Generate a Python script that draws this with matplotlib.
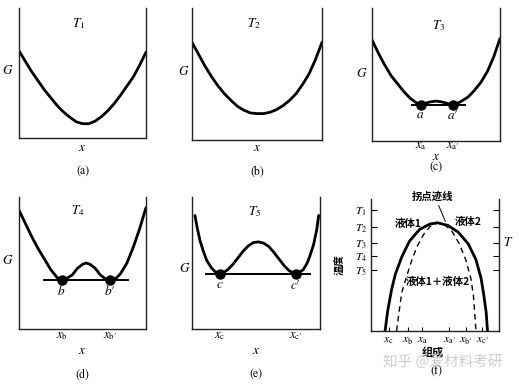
import matplotlib
matplotlib.use('Agg')
import matplotlib.pyplot as plt

plt.rcParams['mathtext.fontset'] = 'stix'
plt.rcParams['font.family'] = ['STIXGeneral', 'DejaVu Sans']

W, H = 519, 387
CJK = ['Noto Sans CJK SC', 'DejaVu Sans']

# (a) T1 : single minimum
a_x = [0, .05, .1, .15, .2, .25, .3, .35, .4, .45, .5, .55, .6, .65, .7, .75, .8, .85, .9, .95, 1.0]
a_G = [.67, .59, .51, .44, .37, .31, .25, .20, .16, .125, .11, .11, .13, .165, .21, .265, .33, .40, .47, .56, .66]

# (b) T2 : flatter minimum
b_x = [0, .05, .1, .15, .2, .25, .3, .35, .4, .45, .5, .55, .6, .65, .7, .75, .8, .85, .9, .95, 1.0]
b_G = [.74, .65, .56, .48, .41, .35, .30, .255, .225, .205, .20, .20, .21, .23, .26, .30, .35, .42, .50, .61, .74]

# (c) T3 : two shallow minima
c_x = [0, .05, .1, .15, .2, .25, .3, .35, .38, .42, .46, .5, .54, .58, .63, .67, .7, .75, .8, .85, .9, .95, 1.0]
c_G = [.76, .66, .57, .49, .43, .37, .32, .285, .27, .285, .295, .30, .295, .285, .27, .285, .30, .33, .38, .44, .52, .63, .77]
c_pts = [0.38, 0.63]
c_tan_x = [0.31, 0.73]
c_tan_G = 0.27

# (d) T4
d_x = [0, .05, .1, .15, .2, .25, .3, .335, .37, .42, .46, .5, .53, .56, .6, .64, .68, .717, .76, .8, .85, .9, .95, 1.0]
d_G = [.90, .80, .70, .61, .53, .45, .39, .37, .38, .41, .46, .49, .50, .49, .46, .41, .38, .37, .38, .42, .50, .62, .76, .92]
d_pts = [0.335, 0.717]
d_tan_x = [0.20, 0.86]
d_tan_G = 0.37

# (e) T5
e_x = [.023, .04, .0625, .09, .115, .15, .18, .22, .25, .28, .32, .36, .40, .44, .48, .52, .56, .60, .64, .68,
       .72, .76, .81, .84, .87, .90, .92, .95, .974, .99]
e_G = [.86, .77, .67, .585, .52, .465, .435, .42, .43, .45, .49, .54, .59, .63, .655, .66, .65, .625, .58, .53,
       .48, .44, .42, .43, .45, .50, .55, .64, .75, .86]
e_pts = [0.22, 0.81]
e_tan_x = [0.11, 0.92]
e_tan_G = 0.42

# (f) phase diagram
f_bin_x = [.11, .13, .16, .19, .24, .30, .38, .46, .52, .60, .68, .76, .82, .86, .88, .90, .91]
f_bin_T = [0, .15, .31, .43, .56, .68, .77, .81, .82, .80, .75, .66, .54, .40, .28, .14, 0]
f_spin_x = [.20, .22, .24, .28, .32, .36, .41, .46, .52, .58, .63, .69, .74, .78, .80, .81, .82]
f_spin_T = [0, .15, .29, .42, .54, .64, .73, .79, .82, .80, .76, .66, .54, .40, .27, .14, 0]
f_T_ticks = [0.92, 0.79, 0.67, 0.57, 0.46]
f_T_labels = ['$T_1$', '$T_2$', '$T_3$', '$T_4$', '$T_5$']
f_x_ticks = [0.14, 0.29, 0.40, 0.61, 0.74, 0.87]
f_x_labels = [r'$x_{\mathrm{c}}$', r'$x_{\mathrm{b}}$', r'$x_{\mathrm{a}}$',
              r'$x_{\mathrm{a}′}$', r'$x_{\mathrm{b}′}$', r'$x_{\mathrm{c}′}$']

fig = plt.figure(figsize=(W / 100, H / 100), dpi=100)


def panel(l, t, r, b):
    ax = fig.add_axes([l / W, 1 - b / H, (r - l) / W, (b - t) / H])
    ax.set_xlim(0, 1)
    ax.set_ylim(0, 1)
    ax.spines['top'].set_visible(False)
    for s in ('left', 'right', 'bottom'):
        ax.spines[s].set_linewidth(1.0)
        ax.spines[s].set_color('#222222')
    ax.set_xticks([])
    ax.set_yticks([])
    return ax


def txt(ax, x, y, s, size=9.5, **kw):
    ax.text(x, y, s, ha='center', va='center', fontsize=size, clip_on=False, **kw)


def g_panel(box, xs, G, T, glab, xlab_y, cap, cap_y, tlab, gy=0.52):
    ax = panel(*box)
    ax.plot(xs, G, color='black', lw=2.0, solid_capstyle='round')
    txt(ax, tlab[0], tlab[1], T)
    txt(ax, glab, gy, '$G$')
    txt(ax, 0.5, xlab_y, '$x$')
    txt(ax, 0.5, cap_y, cap, size=8.5)
    return ax


def tangent(ax, pts, tx, tg, names, ny, xnames, xny):
    ax.plot(tx, [tg, tg], color='black', lw=1.4)
    ax.plot(pts, [tg, tg], 'o', color='black', ms=6.5)
    for p, n, xn in zip(pts, names, xnames):
        txt(ax, p, ny, n, size=9.5)
        txt(ax, p, xny, xn, size=9)


ax = g_panel((19, 8, 146, 138), a_x, a_G, '$T_1$', -0.09, -0.08, '(a)', -0.26, (0.47, 0.88))
ax = g_panel((192, 8, 322, 140), b_x, b_G, '$T_2$', -0.06, -0.06, '(b)', -0.24, (0.48, 0.88))

ax = g_panel((372, 8, 500, 141), c_x, c_G, '$T_3$', -0.08, -0.12, '(c)', -0.20, (0.52, 0.87), gy=0.51)
tangent(ax, c_pts, c_tan_x, c_tan_G, ['$a$', '$a′$'], 0.195,
        [r'$x_{\mathrm{a}}$', r'$x_{\mathrm{a}′}$'], -0.04)

ax = g_panel((19, 197, 146, 329), d_x, d_G, '$T_4$', -0.09, -0.17, '(d)', -0.35, (0.46, 0.90))
tangent(ax, d_pts, d_tan_x, d_tan_G, ['$b$', '$b′$'], 0.29,
        [r'$x_{\mathrm{b}}$', r'$x_{\mathrm{b}′}$'], -0.05)

ax = g_panel((192, 197, 320, 329), e_x, e_G, '$T_5$', -0.06, -0.17, '(e)', -0.35, (0.49, 0.89), gy=0.46)
tangent(ax, e_pts, e_tan_x, e_tan_G, ['$c$', '$c′$'], 0.33,
        [r'$x_{\mathrm{c}}$', r'$x_{\mathrm{c}′}$'], -0.05)

# (f)
ax = panel(371, 199, 499, 331)
ax.plot(f_bin_x, f_bin_T, color='black', lw=2.0)
ax.plot(f_spin_x, f_spin_T, color='black', lw=1.0, ls=(0, (4, 3)))
ax.set_yticks(f_T_ticks)
ax.set_yticklabels(f_T_labels, fontsize=8.3)
ax.set_xticks(f_x_ticks)
ax.set_xticklabels(f_x_labels, fontsize=8.5)
ax.tick_params(axis='y', direction='in', length=4, width=0.8, right=True, pad=3)
ax.tick_params(axis='x', direction='in', length=3, width=0.8, pad=2)
txt(ax, 0.48, 1.02, '拐点迹线', size=7.5, family=CJK, weight='bold')
ax.annotate('', xy=(0.59, 0.81), xytext=(0.52, 0.97),
            arrowprops=dict(arrowstyle='-', lw=0.7, color='black'))
txt(ax, 0.29, 0.81, '液体1', size=7.5, family=CJK, weight='bold')
txt(ax, 0.76, 0.83, '液体2', size=7.5, family=CJK, weight='bold')
txt(ax, 0.52, 0.37, '液体1＋液体2', size=7.5, family=CJK, weight='bold')
txt(ax, -0.24, 0.50, '温度', size=7.5, family=CJK, weight='bold', rotation=90)
txt(ax, 1.07, 0.67, '$T$', size=9.5)
txt(ax, 0.48, -0.16, '组成', size=8, family=CJK, weight='bold')
txt(ax, 0.51, -0.30, '(f)', size=8.5)
txt(ax, 0.56, -0.23, '知乎 @爱材料考研', size=10.5, family=CJK, color='#c8c8c8', alpha=0.9)

fig.savefig('out.png', dpi=100)
